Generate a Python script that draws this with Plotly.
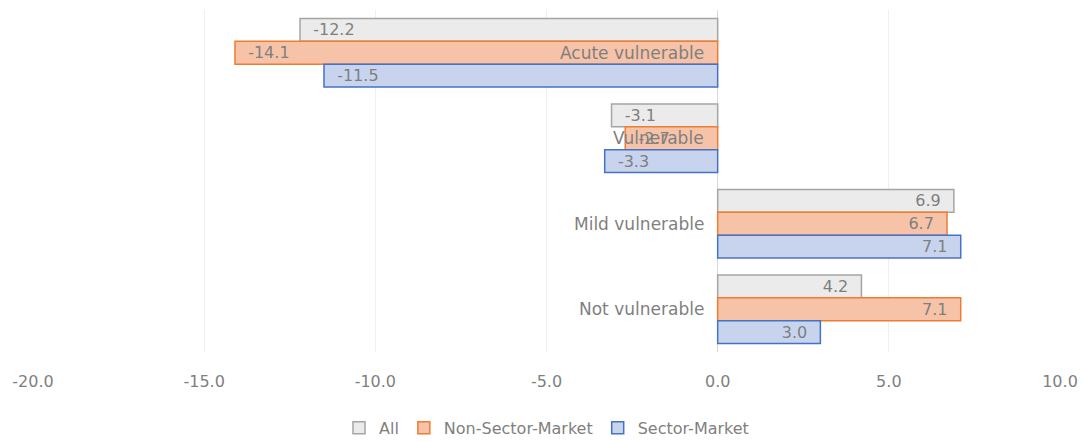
import plotly.graph_objects as go

categories = ["Acute vulnerable", "Vulnerable", "Mild vulnerable", "Not vulnerable"]
series_names = ["All", "Non-Sector-Market", "Sector-Market"]
all_vals = [-12.2, -3.1, 6.9, 4.2]
non_sector_vals = [-14.1, -2.7, 6.7, 7.1]
sector_vals = [-11.5, -3.3, 7.1, 3.0]
tick_vals = [-20, -15, -10, -5, 0, 5, 10]
tick_text = ["-20.0", "-15.0", "-10.0", "-5.0", "0.0", "5.0", "10.0"]

fills = ["#ebebeb", "#f7c3a8", "#c8d4ee"]
borders = ["#a5a5a5", "#ed7d31", "#4472c4"]
font_family = "'DejaVu Sans', sans-serif"
text_gray = "#7f7f7f"
pad = "\u00a0\u00a0"

def label(v):
    s = f"{v:.1f}"
    return pad + s if v < 0 else s + pad

fig = go.Figure()
for name, vals, fc, bc in zip(series_names, [all_vals, non_sector_vals, sector_vals], fills, borders):
    fig.add_trace(go.Bar(
        y=categories, x=vals, name=name, orientation="h",
        marker=dict(color=fc, line=dict(color=bc, width=1.5)),
        text=[label(v) for v in vals], textposition="inside",
        insidetextanchor="end", textangle=0, constraintext="none",
        textfont=dict(family=font_family, size=16, color=text_gray),
        cliponaxis=False,
    ))

for c in categories:
    fig.add_annotation(x=0, y=c, xref="x", yref="y", text=c, showarrow=False,
                       xanchor="right", xshift=-12,
                       font=dict(family=font_family, size=17, color=text_gray))

fig.update_layout(
    width=1083, height=441,
    margin=dict(l=33, r=23, t=10, b=89, autoexpand=False),
    paper_bgcolor="white", plot_bgcolor="white",
    barmode="group", bargap=0.2, bargroupgap=0,
    font=dict(family=font_family, color=text_gray),
    showlegend=True,
    legend=dict(orientation="h", x=0.5, xanchor="center", y=-0.222, yanchor="middle",
                font=dict(family=font_family, size=16, color=text_gray),
                itemwidth=30, traceorder="normal"),
    xaxis=dict(range=[-20, 10], tickvals=tick_vals, ticktext=tick_text,
               showgrid=True, gridcolor="#efefef", gridwidth=1,
               zeroline=True, zerolinecolor="#d9d9d9", zerolinewidth=1,
               showline=False, ticks="", ticklabelstandoff=18, automargin=False,
               tickfont=dict(family=font_family, size=16, color=text_gray)),
    yaxis=dict(autorange="reversed", showticklabels=False, showgrid=False,
               zeroline=False, showline=False, ticks="", automargin=False),
)

fig.write_html("out.html", config={"displayModeBar": False},
               post_script="document.body.style.margin='0';document.body.style.overflow='hidden';")
